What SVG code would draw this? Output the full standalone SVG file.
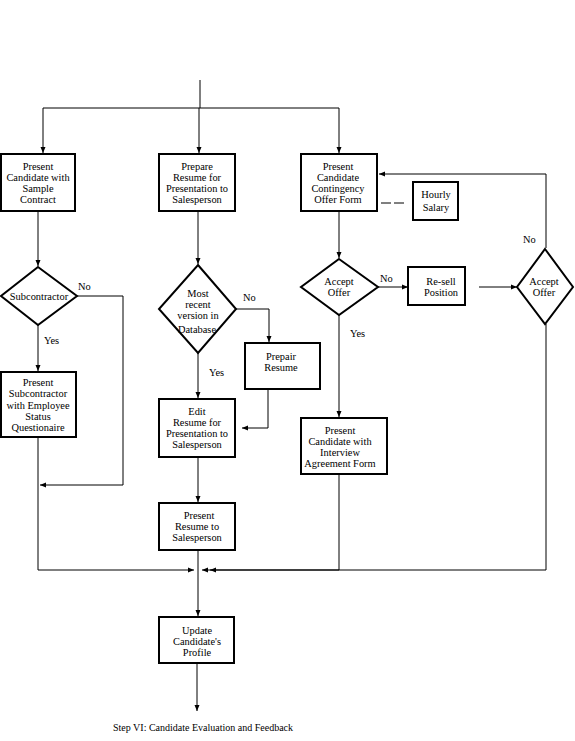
<svg xmlns="http://www.w3.org/2000/svg" width="575" height="741" viewBox="0 0 575 741">
<style>
.box{fill:#fff;stroke:#000;stroke-width:2}
.ln{fill:none;stroke:#000;stroke-width:1}
text{font-family:"Liberation Serif","Times New Roman",serif;font-size:10.4px;fill:#000;text-anchor:middle}
.lbl{text-anchor:start}
.title{font-size:10px}
</style>
<defs>
<marker id="ah" markerWidth="6" markerHeight="6" refX="6" refY="3" orient="auto" markerUnits="userSpaceOnUse">
<path d="M0,0.5 L6,3 L0,5.5 Z" fill="#000"/>
</marker>
</defs>
<rect width="575" height="741" fill="#fff"/>
<g id="connectors">
<path class="ln" d="M200,80 V108"/>
<path class="ln" d="M43,108 H339"/>
<path class="ln" d="M43,108 V153" marker-end="url(#ah)"/>
<path class="ln" d="M199,108 V153" marker-end="url(#ah)"/>
<path class="ln" d="M339,108 V153" marker-end="url(#ah)"/>
<path class="ln" d="M38,211 V266" marker-end="url(#ah)"/>
<path class="ln" d="M38,325 V371" marker-end="url(#ah)"/>
<path class="ln" d="M77,296 H123 V485 H40" marker-end="url(#ah)"/>
<path class="ln" d="M38,437 V570 H194" marker-end="url(#ah)"/>
<path class="ln" d="M198,211 V264" marker-end="url(#ah)"/>
<path class="ln" d="M236,309 H269 V342" marker-end="url(#ah)"/>
<path class="ln" d="M198,353 V398" marker-end="url(#ah)"/>
<path class="ln" d="M268,389 V428 H242" marker-end="url(#ah)"/>
<path class="ln" d="M198,457 V502" marker-end="url(#ah)"/>
<path class="ln" d="M198,550 V616" marker-end="url(#ah)"/>
<path class="ln" d="M339,211 V258" marker-end="url(#ah)"/>
<path class="ln" d="M381,203 H405" stroke-dasharray="10,3"/>
<path class="ln" d="M378,287 H408" marker-end="url(#ah)"/>
<path class="ln" d="M479,287 H517" marker-end="url(#ah)"/>
<path class="ln" d="M546,248 V174 H379" marker-end="url(#ah)"/>
<path class="ln" d="M339,315 V417" marker-end="url(#ah)"/>
<path class="ln" d="M339,474 V570 H202" marker-end="url(#ah)"/>
<path class="ln" d="M546,324 V570 H338"/>
<path class="ln" d="M338,570 H210" marker-end="url(#ah)"/>
<path class="ln" d="M197,663 V711" marker-end="url(#ah)"/>
</g>
<g id="n1"><rect class="box" x="1" y="154" width="74" height="57"/>
<text x="38" y="170">Present</text><text x="38" y="181">Candidate with</text><text x="38" y="192">Sample</text><text x="38" y="203">Contract</text></g>
<g id="n2"><rect class="box" x="159" y="154" width="76" height="57"/>
<text x="197" y="170">Prepare</text><text x="197" y="181">Resume for</text><text x="197" y="192">Presentation to</text><text x="197" y="203">Salesperson</text></g>
<g id="n3"><rect class="box" x="301" y="154" width="76" height="57"/>
<text x="338" y="170">Present</text><text x="338" y="181">Candidate</text><text x="338" y="192">Contingency</text><text x="338" y="203">Offer Form</text></g>
<g id="n4"><rect class="box" x="413" y="182" width="45" height="38"/>
<text x="436" y="198">Hourly</text><text x="436" y="211">Salary</text></g>
<g id="n5"><polygon class="box" points="38,267 77,296 38,325 1,296"/>
<text x="39" y="300">Subcontractor</text></g>
<g id="n6"><rect class="box" x="1" y="372" width="75" height="65"/>
<text x="38" y="386">Present</text><text x="38" y="397">Subcontractor</text><text x="38" y="409">with Employee</text><text x="38" y="420">Status</text><text x="38" y="431">Questionaire</text></g>
<g id="n7"><polygon class="box" points="198,265 236,309 198,353 159,309"/>
<text x="198" y="297">Most</text><text x="198" y="308">recent</text><text x="198" y="319">version in</text><text x="197" y="333">Database</text></g>
<g id="n8"><rect class="box" x="245" y="343" width="75" height="46"/>
<text x="281" y="360">Prepair</text><text x="281" y="371">Resume</text></g>
<g id="n9"><rect class="box" x="159" y="399" width="76" height="58"/>
<text x="197" y="415">Edit</text><text x="197" y="426">Resume for</text><text x="197" y="437">Presentation to</text><text x="197" y="448">Salesperson</text></g>
<g id="n10"><rect class="box" x="159" y="503" width="76" height="47"/>
<text x="199" y="519">Present</text><text x="197" y="530">Resume to</text><text x="197" y="541">Salesperson</text></g>
<g id="n11"><polygon class="box" points="339,259 378,287 339,315 301,287"/>
<text x="339" y="285">Accept</text><text x="339" y="296">Offer</text></g>
<g id="n12"><rect class="box" x="408" y="267" width="57" height="38"/>
<text x="441" y="285">Re-sell</text><text x="441" y="296">Position</text></g>
<g id="n13"><polygon class="box" points="545,249 573,287 545,324 517,287"/>
<text x="544" y="285">Accept</text><text x="544" y="296">Offer</text></g>
<g id="n14"><rect class="box" x="301" y="418" width="86" height="56"/>
<text x="340" y="434">Present</text><text x="340" y="445">Candidate with</text><text x="340" y="456">Interview</text><text x="340" y="467">Agreement Form</text></g>
<g id="n15"><rect class="box" x="159" y="617" width="75" height="46"/>
<text x="197" y="634">Update</text><text x="197" y="645">Candidate's</text><text x="197" y="656">Profile</text></g>
<g id="labels">
<text class="lbl" x="78" y="290">No</text>
<text class="lbl" x="44" y="344">Yes</text>
<text class="lbl" x="243" y="301">No</text>
<text class="lbl" x="209" y="376">Yes</text>
<text class="lbl" x="380" y="282">No</text>
<text class="lbl" x="350" y="337">Yes</text>
<text class="lbl" x="523" y="243">No</text>
<text class="lbl title" x="113" y="731">Step VI:  Candidate Evaluation and Feedback</text>
</g>
</svg>
